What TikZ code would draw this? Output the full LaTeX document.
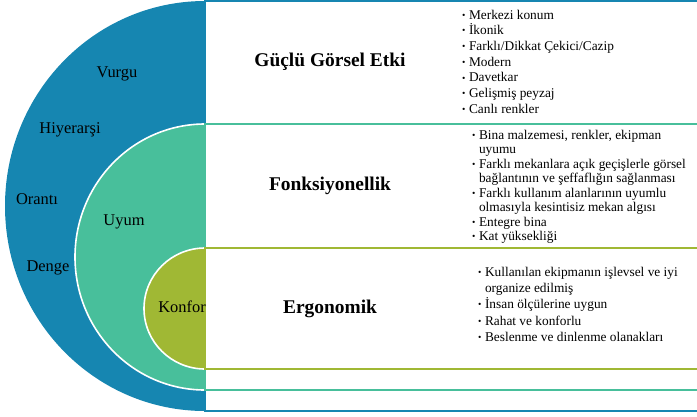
\documentclass[tikz,border=0pt]{standalone}
\usepackage{fontspec}
\setmainfont{Liberation Serif}
\usepackage{xcolor}
\usetikzlibrary{positioning}
\definecolor{outerblue}{RGB}{22,134,177}
\definecolor{midteal}{RGB}{72,191,155}
\definecolor{innerolive}{RGB}{160,184,52}
\newcommand{\bul}{\raisebox{0.15ex}{\fontsize{9.5}{9.5}\selectfont\textbullet}}

\begin{document}
\begin{tikzpicture}[
    x=1bp, y=-1bp,
    ring/.style={draw=white, line width=1.6bp},
    panel/.style={fill=white, line width=2bp},
    label/.style={font=\fontsize{16.5}{18}\selectfont, inner sep=0pt},
    heading/.style={font=\fontsize{19.5}{22}\selectfont\bfseries, inner sep=0pt},
    items/.style={inner sep=0pt, anchor=base west}
]
\useasboundingbox (0,0) rectangle (697,416);

\fill[outerblue] (205,1) arc[start angle=270, end angle=90, x radius=200, y radius=205] -- cycle;
\draw[panel, draw=outerblue] (205,1) rectangle (700,411);

\fill[midteal] (205,124) arc[start angle=270, end angle=90, x radius=130, y radius=133] -- cycle;
\draw[ring] (205,124) arc[start angle=270, end angle=90, x radius=130, y radius=133];
\draw[panel, draw=midteal] (205,124) rectangle (700,390);

\fill[innerolive] (205,248) arc[start angle=270, end angle=90, x radius=61, y radius=60.5] -- cycle;
\draw[ring] (205,248) arc[start angle=270, end angle=90, x radius=61, y radius=60.5];
\draw[panel, draw=innerolive] (205,248) rectangle (700,369);

\node[label] (vurgu) at (117,74) {Vurgu};
\node[label] (hiyerarsi) at (70,130) {Hiyerarşi};
\node[label] (oranti) at (37,199) {Orantı};
\node[label] (denge) at (48,268) {Denge};
\node[label] (uyum) at (124,222) {Uyum};
\node[label, anchor=east] (konfor) at (206,307) {Konfor};

\node[heading] (gorsel) at (330,62) {Güçlü Görsel Etki};
\node[heading] (fonks) at (330,186) {Fonksiyonellik};
\node[heading] (ergo) at (330,309) {Ergonomik};

\node[items, font=\fontsize{13.4}{15.8}\selectfont] (gorselList) at (462,19) {%
\begin{tabular}[t]{@{}l@{\hspace{3.5bp}}l@{}}
\bul & Merkezi konum\\
\bul & İkonik\\
\bul & Farklı/Dikkat Çekici/Cazip\\
\bul & Modern\\
\bul & Davetkar\\
\bul & Gelişmiş peyzaj\\
\bul & Canlı renkler
\end{tabular}};

\node[items, font=\fontsize{13.4}{14.6}\selectfont] (fonksList) at (472,139) {%
\begin{tabular}[t]{@{}l@{\hspace{3.5bp}}l@{}}
\bul & Bina malzemesi, renkler, ekipman\\
 & uyumu\\
\bul & Farklı mekanlara açık geçişlerle görsel\\
 & bağlantının ve şeffaflığın sağlanması\\
\bul & Farklı kullanım alanlarının uyumlu\\
 & olmasıyla kesintisiz mekan algısı\\
\bul & Entegre bina\\
\bul & Kat yüksekliği
\end{tabular}};

\node[items, font=\fontsize{13.4}{16.5}\selectfont] (ergoList) at (478,276) {%
\begin{tabular}[t]{@{}l@{\hspace{3.5bp}}l@{}}
\bul & Kullanılan ekipmanın işlevsel ve iyi\\
 & organize edilmiş\\
\bul & İnsan ölçülerine uygun\\
\bul & Rahat ve konforlu\\
\bul & Beslenme ve dinlenme olanakları
\end{tabular}};
\end{tikzpicture}
\end{document}
